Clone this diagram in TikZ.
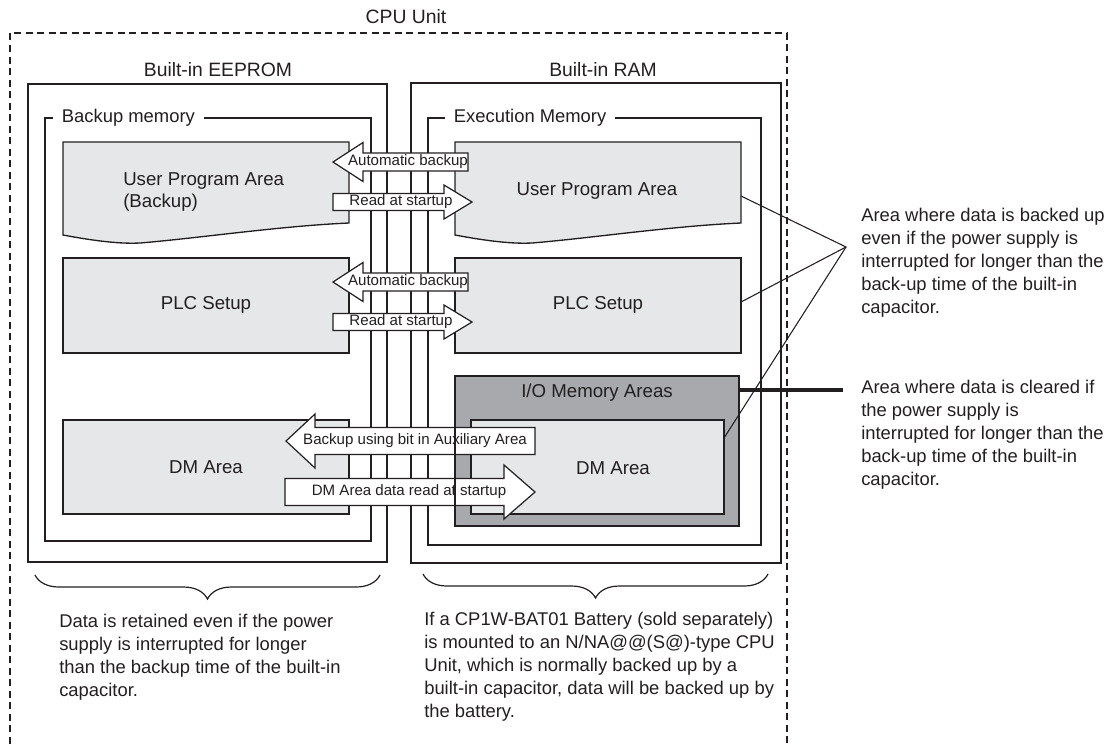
\documentclass[tikz,border=0pt]{standalone}
\usepackage{fontspec}
\setmainfont{Liberation Sans}
\usepackage{xcolor}
\definecolor{inkline}{HTML}{231F20}
\definecolor{arealight}{HTML}{E6E7E8}
\definecolor{areadark}{HTML}{A7A9AC}
\usepackage{tikz}
\usetikzlibrary{decorations.pathreplacing,calc}

% block arrow: tail x, head base x, tip x, centre y, body half, head half, label x, name, label
\newcommand{\blockarrow}[9]{%
  \filldraw[blockarr] (#1,#4-#5) -- (#2,#4-#5) -- (#2,#4-#6) -- (#3,#4)
    -- (#2,#4+#6) -- (#2,#4+#5) -- (#1,#4+#5) -- cycle;
  \node[arrowtext] (#8) at (#7,#4) {#9};
}

\begin{document}
\begin{tikzpicture}[x=0.75pt, y=-0.75pt, line join=miter, color=inkline,
    titletext/.style={font=\fontsize{14.5}{17}\selectfont, inner sep=0pt},
    boxtext/.style={font=\fontsize{14}{17}\selectfont, inner sep=0pt},
    notetext/.style={font=\fontsize{13.8}{17.25}\selectfont, inner sep=0pt, align=left},
    memlabel/.style={font=\fontsize{13.8}{17}\selectfont, fill=white, inner xsep=6.5pt, inner ysep=1pt},
    arrowtext/.style={font=\fontsize{11.3}{13}\selectfont, inner sep=0pt},
    cpuedge/.style={line width=0.8pt, dash pattern=on 5.25pt off 3.4pt},
    chipframe/.style={line width=1.8pt},
    memframe/.style={line width=0.9pt},
    areabox/.style={draw=inkline, fill=arealight, line width=1pt},
    iobox/.style={draw=inkline, fill=areadark, line width=1pt},
    blockarr/.style={draw=inkline, fill=white, line width=0.9pt},
    callout/.style={line width=0.8pt},
    bracket/.style={line width=0.9pt, decorate, decoration={brace, mirror, amplitude=18pt}}]
  \useasboundingbox (0,0) rectangle (1109,744);

  % CPU Unit outline (open at the bottom)
  \draw[cpuedge] (10,744) -- (10,33) -- (787,33) -- (787,744);
  \node[titletext] (cpu) at (406,17) {CPU Unit};

  % Built-in memories
  \node[titletext] (eeprom) at (218,70) {Built-in EEPROM};
  \node[titletext] (ram) at (603,70) {Built-in RAM};
  \draw[chipframe] (28,84) rectangle (387,562);
  \draw[chipframe] (411,83) rectangle (781,563);

  % Backup memory / Execution memory frames
  \draw[memframe] (45,118) rectangle (371,541);
  \node[memlabel, anchor=west] (bkmem) at (53,118) {Backup memory};
  \draw[memframe] (428,118) rectangle (761,545);
  \node[memlabel, anchor=west] (exmem) at (445,118) {Execution Memory};

  % User program areas (torn bottom edge)
  \foreach \dx in {0,392} {
    \filldraw[areabox] (63+\dx,235) -- (63+\dx,142) -- (349+\dx,142) -- (349+\dx,223)
      .. controls (280+\dx,226) and (200+\dx,238) .. (140+\dx,243)
      .. controls (120+\dx,244) and (95+\dx,241) .. (63+\dx,235) -- cycle;
  }
  \node[boxtext, align=left, anchor=west] (upabk) at (123,192) {User Program Area\\(Backup)};
  \node[boxtext] (upa) at (597,191) {User Program Area};

  % PLC Setup
  \filldraw[areabox] (63,258) rectangle (349,353);
  \filldraw[areabox] (455,258) rectangle (741,353);
  \node[boxtext] (plcbk) at (206,305) {PLC Setup};
  \node[boxtext] (plc) at (598,305) {PLC Setup};

  % DM Area and I/O Memory Areas
  \filldraw[areabox] (63,420) rectangle (349,514);
  \node[boxtext] (dmbk) at (206,467) {DM Area};
  \filldraw[iobox] (455,376) rectangle (739,526);
  \filldraw[areabox] (471,420) rectangle (724,514);
  \node[boxtext] (iomem) at (597,393) {I/O Memory Areas};
  \node[boxtext] (dm) at (613,468) {DM Area};

  % Transfer arrows
  \blockarrow{468}{363}{333}{162}{9}{19.5}{408}{autobkA}{Automatic backup}
  \blockarrow{333}{444}{472}{202}{8.5}{17}{401}{readstA}{Read at startup}
  \blockarrow{468}{363}{333}{282}{9}{19.5}{408}{autobkB}{Automatic backup}
  \blockarrow{333}{444}{472}{322}{8.5}{17}{401}{readstB}{Read at startup}
  \blockarrow{535}{315}{286}{441}{13.5}{27}{415}{auxbk}{Backup using bit in Auxiliary Area}
  \blockarrow{285}{504}{535}{492}{13.5}{27}{409}{dmread}{DM Area data read at startup}
  \draw[line width=1pt] (455,376) -- (455,526);

  % Callouts
  \coordinate (callpt) at (846,247);
  \coordinate (upaE) at (741,196);
  \coordinate (plcE) at (741,302);
  \coordinate (dmE) at (724,438);
  \draw[callout] (upaE) -- (callpt) -- (plcE);
  \draw[callout] (callpt) -- (dmE);
  \coordinate (ioE) at (739,390);
  \coordinate (clearpt) at (843,390);
  \draw[line width=2.3pt] (ioE) -- (clearpt);
  \node[notetext, anchor=north west] (keepnote) at (861,208)
    {Area where data is backed up\\even if the power supply is\\interrupted for longer than the\\back-up time of the built-in\\capacitor.};
  \node[notetext, anchor=north west] (clearnote) at (861,380)
    {Area where data is cleared if\\the power supply is\\interrupted for longer than the\\back-up time of the built-in\\capacitor.};

  % Braces and notes below
  \draw[bracket] (35,575) -- (380,575);
  \draw[bracket] (423,574) -- (768,574);
  \node[notetext, anchor=north west] (eepromnote) at (59,614)
    {Data is retained even if the power\\supply is interrupted for longer\\than the backup time of the built-in\\capacitor.};
  \node[notetext, anchor=north west] (ramnote) at (424,612)
    {If a CP1W-BAT01 Battery (sold separately)\\is mounted to an N/NA@@(S@)-type CPU\\Unit, which is normally backed up by a\\built-in capacitor, data will be backed up by\\the battery.};
\end{tikzpicture}
\end{document}
